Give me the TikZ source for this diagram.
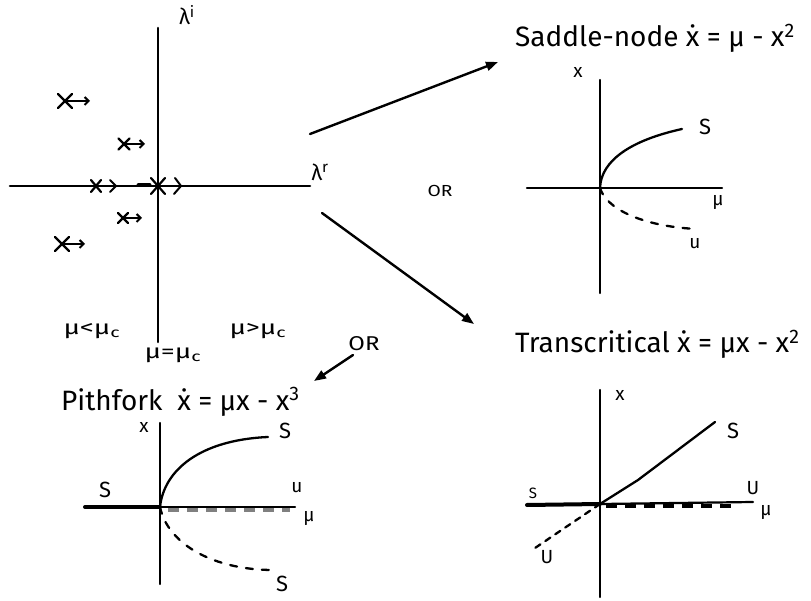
\documentclass[tikz,border=0pt]{standalone}
\usepackage{fontspec}
\setmainfont{Fira Sans}
\usetikzlibrary{arrows.meta}
\newcommand\widetext[2]{\scalebox{#1}[1]{#2}}
\begin{document}
\begin{tikzpicture}[x=1pt,y=-1pt,line cap=round,
  ax/.style={line width=2.2pt},
  bigax/.style={line width=2.6pt},
  curve/.style={line width=2.3pt},
  dcurve/.style={line width=2.3pt,dash pattern=on 7pt off 9pt},
  stab/.style={line width=4pt},
  unst/.style={line width=4pt,dash pattern=on 11pt off 8pt,line cap=butt},
  bigarrow/.style={line width=2.4pt,-{Triangle[length=12pt,width=9pt]}},
  smallarrow/.style={line width=2pt,-{Straight Barb[length=4pt,width=8pt]}},
  barb/.style={line width=2pt},
  title/.style={font=\fontsize{28}{30}\selectfont},
  lab/.style={font=\fontsize{22}{24}\selectfont},
  xlab/.style={font=\fontsize{19}{22}\selectfont},
  reg/.style={font=\fontsize{20}{22}\selectfont},
  orlab/.style={font=\fontsize{16}{18}\selectfont},
  inner sep=0pt]
\useasboundingbox (0,0) rectangle (811,601);

% ---------- left: eigenvalue plane ----------
\coordinate (vt) at (158,28);
\coordinate (vb) at (158,342);
\coordinate (hl) at (10,186);
\coordinate (hr) at (310,186);
\draw[bigax] (vt) -- (vb);
\draw[bigax] (hl) -- (hr);
\node[lab] (li) at (187,15) {λ\textsuperscript{i}};
\node[lab] (lr) at (320,172) {λ\textsuperscript{r}};

% crosses with arrows (off axis)
\foreach \n/\cx/\cy/\s/\ex in {a/65/101/7/90, b/124/144/5.5/145, e/123/218/5/142, f/62/244/7/85}{
  \coordinate (x\n) at (\cx,\cy);
  \coordinate (y\n) at (\ex,\cy);
  \draw[line width=2.2pt] (x\n) +(-\s,-\s) -- +(\s,\s) (x\n) +(-\s,\s) -- +(\s,-\s);
  \draw[smallarrow] (x\n) -- (y\n);
}
% crosses on the real axis
\coordinate (xc) at (96,186);
\draw[line width=2.2pt] (xc) +(-5,-6) -- +(5,6) (xc) +(-5,6) -- +(5,-6);
\coordinate (yc) at (116,186);
\draw[barb] (yc) +(-6,-6) -- (yc) -- +(-6,6);
\coordinate (xd) at (158,186);
\draw[line width=2.2pt] (xd) +(-7,-8) -- +(7,8) (xd) +(-7,8) -- +(7,-8);
\draw[line width=3pt] (138,185) -- (150,185);
\coordinate (yd) at (181,186);
\draw[barb] (yd) +(-6,-8) -- (yd) -- +(-7,8);

\node[reg] (mlt) at (92,331) {\widetext{1.4}{μ<μ\textsubscript{c}}};
\node[reg] (mgt) at (258,331) {\widetext{1.4}{μ>μ\textsubscript{c}}};
\node[reg] (meq) at (173,355) {\widetext{1.4}{μ=μ\textsubscript{c}}};

% ---------- arrows ----------
\coordinate (a1s) at (310,134);
\coordinate (a1e) at (498,62);
\draw[bigarrow] (a1s) -- (a1e);
\coordinate (a2s) at (322,213);
\coordinate (a2e) at (474,324);
\draw[bigarrow] (a2s) -- (a2e);
\node[orlab] (or1) at (440,191) {\widetext{1.2}{OR}};
\coordinate (a3s) at (353,355);
\coordinate (a3e) at (314,381);
\draw[bigarrow] (a3s) -- (a3e);
\node[orlab,font=\fontsize{20}{22}\selectfont] (or2) at (364,344) {\widetext{1.2}{OR}};

% ---------- saddle-node ----------
\node[title,anchor=base west] (tsn) at (515,47) {Saddle-node \.{x} = μ - x\textsuperscript{2}};
\coordinate (sno) at (600,188);
\draw[ax] (600,80) coordinate (snt) -- (600,293) coordinate (snb);
\draw[ax] (527,188) coordinate (snl) -- (722,188) coordinate (snr);
\node[xlab] (snx) at (578,72) {x};
\draw[curve] (sno) .. controls (601,160) and (632,140) .. (682,129) coordinate (sns);
\node[lab] (snS) at (705,127) {S};
\draw[dcurve] (sno) .. controls (606,208) and (640,226) .. (696,229) coordinate (snu);
\node[xlab] (snmu) at (718,203) {μ};
\node[xlab] (snU) at (695,244) {u};

% ---------- pitchfork ----------
\node[title,anchor=base west] (tpf) at (61,410) {Pithfork \ \.{x} = μx - x\textsuperscript{3}};
\coordinate (pfo) at (160,507);
\draw[ax] (160,423) coordinate (pft) -- (160,584) coordinate (pfb);
\draw[stab] (85,507) coordinate (pfl) -- (pfo);
\draw[ax] (pfo) -- (295,507) coordinate (pfr);
\draw[unst,gray] (168,510) -- (290,510);
\node[xlab] (pfx) at (144,427) {x};
\draw[curve] (pfo) .. controls (164,470) and (200,440) .. (268,437) coordinate (pfs);
\node[lab] (pfS1) at (285,431) {S};
\draw[dcurve] (pfo) .. controls (168,545) and (215,570) .. (273,570) coordinate (pfs2);
\node[lab] (pfS2) at (282,584) {S};
\node[lab] (pfS3) at (105,490) {S};
\node[xlab] (pfU) at (297,488) {u};
\node[xlab] (pfmu) at (309,519) {μ};

% ---------- transcritical ----------
\node[title,anchor=base west] (ttc) at (515,353) {Transcritical \.{x} = μx - x\textsuperscript{2}};
\coordinate (tco) at (600,504);
\draw[ax] (600,390) coordinate (tct) -- (600,597) coordinate (tcb);
\draw[stab] (527,505) coordinate (tcl) -- (tco);
\draw[ax] (tco) -- (753,502) coordinate (tcr);
\draw[unst] (606,506) -- (732,506);
\node[xlab] (tcx) at (620,395) {x};
\draw[curve] (tco) -- (638,480) -- (715,422) coordinate (tcs);
\node[lab] (tcS1) at (733,431) {S};
\node[xlab,font=\fontsize{15}{17}\selectfont] (tcS2) at (533,493) {S};
\draw[dcurve,dash pattern=on 6pt off 6pt] (tco) -- (535,548) coordinate (tcu);
\node[xlab] (tcU1) at (547,557) {U};
\node[xlab] (tcU2) at (753,488) {U};
\node[xlab] (tcmu) at (766,513) {μ};
\end{tikzpicture}
\end{document}
